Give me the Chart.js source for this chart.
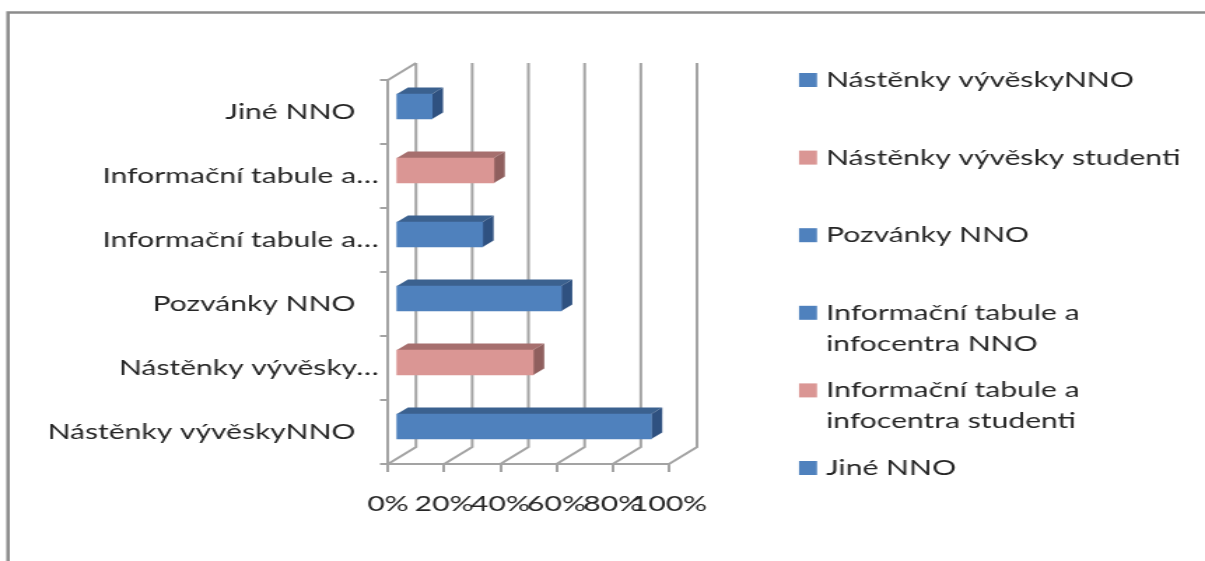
<!DOCTYPE html>
<html>
<head>
<meta charset="utf-8">
<style>
html,body{margin:0;padding:0;background:#fff;overflow:hidden}
/* The drawing surface is 861 units wide and widened to fill the page */
canvas{display:block;width:1205px!important;height:561px!important}
</style>
<script src="https://cdn.jsdelivr.net/npm/chart.js@4"></script>
</head>
<body>
<canvas id="c" width="861" height="561"></canvas>
<script>
const categories = [
  'Nástěnky vývěskyNNO',
  'Nástěnky vývěsky studenti',
  'Pozvánky NNO',
  'Informační tabule a infocentra NNO',
  'Informační tabule a infocentra studenti',
  'Jiné NNO'
];
const tickLabels = [
  'Nástěnky vývěskyNNO   ',
  'Nástěnky vývěsky…',
  'Pozvánky NNO   ',
  'Informační tabule a…',
  'Informační tabule a…',
  'Jiné NNO   '
];
const legendLines = [
  ['Nástěnky vývěskyNNO'],
  ['Nástěnky vývěsky studenti'],
  ['Pozvánky NNO'],
  ['Informační tabule a', 'infocentra NNO'],
  ['Informační tabule a', 'infocentra studenti'],
  ['Jiné NNO']
];
const values = [91, 49, 59, 31, 35, 13];

const BLUE = {front: '#4f81bd', top: '#3b618f', side: '#2f5180'};
const PINK = {front: '#da9694', top: '#a66f6e', side: '#8f5f5e'};
const palette = [BLUE, PINK, BLUE, BLUE, PINK, BLUE];

// Horizontal widening of the surface; page pixels are divided by it
const STRETCH = 1205 / 861;
const ux = v => v / STRETCH;

const FONT = {family: 'Lato', size: 21.5};
const TEXT = '#262626';
const GRID = '#a3a3a3';

// Depth of the back wall and of the bars
const WALL = {dx: ux(28), dy: -17};
const BAR = {dx: ux(11), dy: -6.5, inset: ux(7.5), lift: -5.5};

const frame = {
  id: 'frame',
  beforeDraw(chart) {
    const c = chart.ctx;
    c.save();
    c.strokeStyle = '#8c8c8c';
    c.lineWidth = 2.5;
    c.beginPath();
    c.moveTo(ux(8), 561);
    c.lineTo(ux(8), 12.5);
    c.lineTo(ux(1205), 12.5);
    c.stroke();
    c.restore();
  }
};

// Back wall, floor and side wall of the pseudo-3D plot box
const walls = {
  id: 'walls',
  beforeDatasetsDraw(chart) {
    const c = chart.ctx, xs = chart.scales.x, a = chart.chartArea;
    c.save();
    c.strokeStyle = GRID;
    c.lineWidth = 2;
    c.beginPath();
    xs.ticks.forEach((t, i) => {
      const x = xs.getPixelForTick(i);
      c.moveTo(x, a.bottom);
      c.lineTo(x + WALL.dx, a.bottom + WALL.dy);
      c.lineTo(x + WALL.dx, a.top + WALL.dy);
    });
    c.moveTo(a.left, a.top);
    c.lineTo(a.left + WALL.dx, a.top + WALL.dy);
    c.stroke();
    c.restore();
  }
};

// Shifts each bar to mid-depth and adds its top and end faces
const bars3d = {
  id: 'bars3d',
  beforeDatasetDraw(chart, args) {
    const c = chart.ctx;
    c.save();
    c.translate(BAR.inset, BAR.lift);
    args.meta.data.forEach((el, i) => {
      const p = el.getProps(['x', 'y', 'base', 'height'], true);
      const t = p.y - p.height / 2, b = p.y + p.height / 2;
      c.fillStyle = palette[i].top;
      c.beginPath();
      c.moveTo(p.base, t);
      c.lineTo(p.base + BAR.dx, t + BAR.dy);
      c.lineTo(p.x + BAR.dx, t + BAR.dy);
      c.lineTo(p.x, t);
      c.closePath();
      c.fill();
      c.fillStyle = palette[i].side;
      c.beginPath();
      c.moveTo(p.x, t);
      c.lineTo(p.x + BAR.dx, t + BAR.dy);
      c.lineTo(p.x + BAR.dx, b + BAR.dy);
      c.lineTo(p.x, b);
      c.closePath();
      c.fill();
    });
  },
  afterDatasetDraw(chart) { chart.ctx.restore(); }
};

// Legend with fixed row pitch and two-line entries
const sideLegend = {
  id: 'sideLegend',
  afterDraw(chart) {
    const c = chart.ctx;
    c.save();
    c.font = FONT.size + 'px ' + FONT.family;
    c.textBaseline = 'middle';
    c.textAlign = 'left';
    legendLines.forEach((lines, i) => {
      const y = 80 + i * 77.6;
      c.fillStyle = palette[i].front;
      c.fillRect(ux(799), y - 7, ux(18), 14);
      c.fillStyle = TEXT;
      lines.forEach((line, j) => c.fillText(line, ux(826), y + j * 31));
    });
    c.restore();
  }
};

new Chart(document.getElementById('c'), {
  type: 'bar',
  data: {
    labels: categories,
    datasets: [{
      data: values,
      backgroundColor: palette.map(p => p.front),
      barThickness: 25,
      borderWidth: 0
    }]
  },
  plugins: [frame, walls, bars3d, sideLegend],
  options: {
    indexAxis: 'y',
    responsive: false,
    animation: false,
    layout: {padding: {top: 80, right: ux(536), left: 0, bottom: 0}},
    plugins: {legend: {display: false}, tooltip: {enabled: false}, title: {display: false}},
    scales: {
      x: {
        min: 0, max: 100,
        border: {color: GRID, width: 2},
        grid: {drawOnChartArea: false, color: GRID, lineWidth: 2, tickLength: 8},
        ticks: {
          stepSize: 20, autoSkip: false, maxRotation: 0, padding: 19,
          color: TEXT, font: FONT,
          callback: v => v + '%'
        },
        afterFit(s) { s.height = 97; }
      },
      y: {
        reverse: true,
        border: {color: GRID, width: 2},
        grid: {drawOnChartArea: false, color: GRID, lineWidth: 2, tickLength: ux(8)},
        ticks: {
          autoSkip: false, padding: 1,
          color: TEXT, font: FONT,
          callback: (v, i) => tickLabels[i]
        },
        afterFit(s) { s.width = ux(388); }
      }
    }
  }
});
</script>
</body>
</html>
